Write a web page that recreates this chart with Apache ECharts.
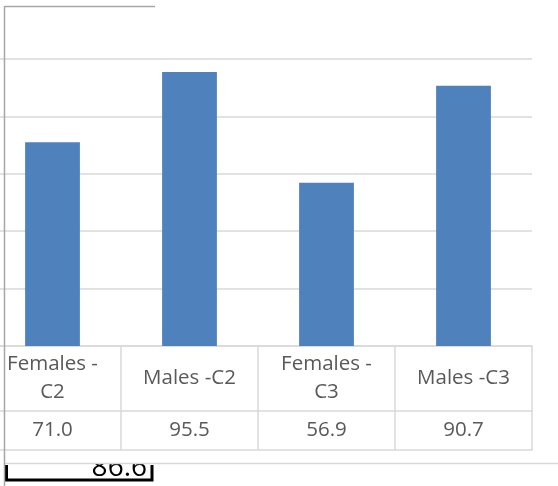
<!DOCTYPE html>
<html>
<head>
<meta charset="utf-8">
<script src="https://cdn.jsdelivr.net/npm/echarts@6/dist/echarts.min.js"></script>
<style>
html,body{margin:0;padding:0;background:#fff;}
#c{width:558px;height:486px;}
</style>
</head>
<body>
<div id="c"></div>
<script>
var categories = ['Females -C2', 'Males -C2', 'Females -C3', 'Males -C3'];
var headerLabels = ['Females -\nC2', 'Males -C2', 'Females -\nC3', 'Males -C3'];
var values = [71.0, 95.5, 56.9, 90.7];
var yTicks = [0, 20, 40, 60, 80, 100, 120];
var strayCell = '86.6';

var chart = echarts.init(document.getElementById('c'), null, {renderer: 'canvas'});
var gridCol = '#d9d9d9';
var txtCol = '#595959';
var font = 'Open Sans';

chart.setOption({
  animation: false,
  grid: {left: -16, width: 548, top: 1.6, height: 344.4, containLabel: false, outerBoundsMode: 'none'},
  xAxis: [
    {
      type: 'category', data: categories, position: 'bottom',
      axisLine: {show: true, lineStyle: {color: gridCol, width: 1.5}},
      axisTick: {show: true, length: 104, lineStyle: {color: gridCol, width: 1.5}},
      axisLabel: {
        interval: 0, margin: 32.5, verticalAlign: 'middle',
        color: txtCol, fontSize: 20.5, fontFamily: font, lineHeight: 28,
        formatter: function (v, i) { return headerLabels[i]; }
      }
    },
    {
      type: 'category', data: categories, position: 'bottom', offset: 65,
      axisLine: {show: true, lineStyle: {color: gridCol, width: 1.5}},
      axisTick: {show: false},
      axisLabel: {
        interval: 0, margin: 19.5, verticalAlign: 'middle',
        color: txtCol, fontSize: 20.5, fontFamily: font,
        formatter: function (v, i) { return values[i].toFixed(1); }
      }
    },
    {
      type: 'category', data: categories, position: 'bottom', offset: 104,
      axisLine: {show: true, lineStyle: {color: gridCol, width: 1.5}},
      axisTick: {show: false},
      axisLabel: {show: false}
    }
  ],
  yAxis: {
    type: 'value', min: yTicks[0], max: yTicks[yTicks.length - 1], interval: 20,
    axisLine: {show: false}, axisTick: {show: false}, axisLabel: {show: false},
    splitLine: {show: true, showMaxLine: false, lineStyle: {color: gridCol, width: 1.5}}
  },
  series: [{
    type: 'bar', data: values, xAxisIndex: 0, barWidth: '40%',
    itemStyle: {color: '#4f81bd'}
  }],
  graphic: [
    {type: 'text', z: 10, style: {text: strayCell, x: 147, y: 482, align: 'right', verticalAlign: 'bottom', fontSize: 28, fontFamily: font, fill: '#000'}},
    {type: 'rect', z: 11, shape: {x: 5, y: 451.5, width: 160, height: 12.5}, style: {fill: '#fff'}},
    {type: 'line', z: 12, shape: {x1: 5, y1: 463.5, x2: 558, y2: 463.5}, style: {stroke: gridCol, lineWidth: 1.5}},
    {type: 'polyline', z: 12, shape: {points: [[6.5, 465], [6.5, 480], [152, 480], [152, 465]]}, style: {stroke: '#000', lineWidth: 3, fill: null}},
    {type: 'line', z: 13, shape: {x1: 4.5, y1: 6, x2: 4.5, y2: 486}, style: {stroke: '#a6a6a6', lineWidth: 1.5}},
    {type: 'line', z: 13, shape: {x1: 5, y1: 6.5, x2: 155, y2: 6.5}, style: {stroke: '#a6a6a6', lineWidth: 1.5}}
  ]
});
</script>
</body>
</html>
